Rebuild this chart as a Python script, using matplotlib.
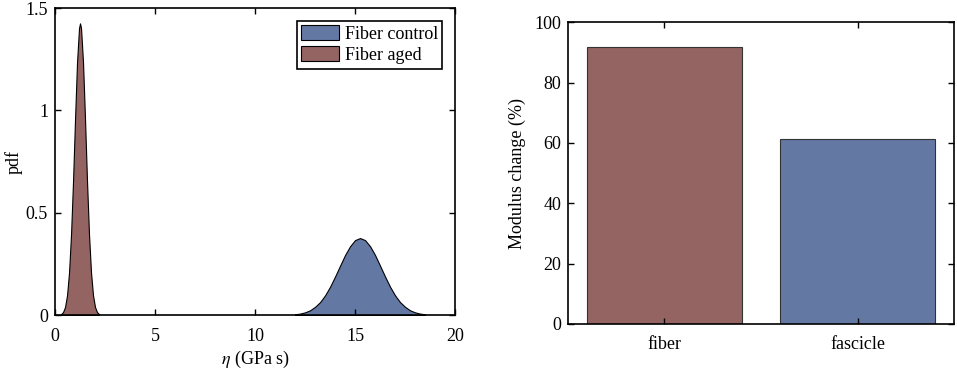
import matplotlib
matplotlib.use("Agg")
import matplotlib.pyplot as plt

plt.rcParams['font.family'] = ['Liberation Serif', 'DejaVu Serif']
plt.rcParams['mathtext.fontset'] = 'stix'
plt.rcParams['font.size'] = 13

# pdf curves
aged_x = [0.3, 0.4, 0.5, 0.6, 0.7, 0.8, 0.9, 1.0, 1.1, 1.2, 1.25, 1.3, 1.4,
          1.5, 1.6, 1.7, 1.8, 1.9, 2.0, 2.1, 2.2]
aged_y = [0.0045, 0.014, 0.039, 0.096, 0.207, 0.392, 0.652, 0.956, 1.234,
          1.402, 1.425, 1.402, 1.234, 0.956, 0.652, 0.392, 0.207, 0.096,
          0.039, 0.014, 0.0045]

control_x = [12.0, 12.25, 12.5, 12.75, 13.0, 13.25, 13.5, 13.75, 14.0, 14.25,
             14.5, 14.75, 15.0, 15.25, 15.5, 15.75, 16.0, 16.25, 16.5, 16.75,
             17.0, 17.25, 17.5, 17.75, 18.0, 18.25, 18.5]
control_y = [0.0034, 0.0069, 0.013, 0.023, 0.040, 0.063, 0.096, 0.138, 0.188,
             0.241, 0.293, 0.336, 0.366, 0.376, 0.366, 0.336, 0.293, 0.241,
             0.188, 0.138, 0.096, 0.063, 0.040, 0.023, 0.013, 0.0069, 0.0034]

# bar chart
categories = ['fiber', 'fascicle']
modulus_change = [91.6, 61.3]

red = '#946463'
blue = '#6478a4'

fig = plt.figure(figsize=(9.57, 3.69), dpi=100)

ax1 = fig.add_axes([0.0575, 0.1463, 0.418, 0.832])
ax1.fill_between(control_x, control_y, color=blue, edgecolor='black',
                 linewidth=0.8, label='Fiber control')
ax1.fill_between(aged_x, aged_y, color=red, edgecolor='black',
                 linewidth=0.8, label='Fiber aged')
ax1.set_xlim(0, 20)
ax1.set_ylim(0, 1.5)
ax1.set_xticks([0, 5, 10, 15, 20])
ax1.set_yticks([0, 0.5, 1, 1.5])
ax1.set_yticklabels(['0', '0.5', '1', '1.5'])
ax1.set_xlabel(r'$\eta$ (GPa s)', labelpad=3)
ax1.set_ylabel('pdf', labelpad=2)
leg = ax1.legend(loc='upper right', fancybox=False, framealpha=1,
                 edgecolor='black', handlelength=2.1, handleheight=0.9,
                 handletextpad=0.3, borderpad=0.25, labelspacing=0.2,
                 borderaxespad=0.7)
leg.get_frame().set_linewidth(1.2)

ax2 = fig.add_axes([0.5935, 0.122, 0.4034, 0.818])
ax2.bar([1, 2], modulus_change, width=0.8, color=[red, blue],
        edgecolor='#333333', linewidth=0.8)
ax2.set_xlim(0.5, 2.5)
ax2.set_ylim(0, 100)
ax2.set_xticks([1, 2])
ax2.set_xticklabels(categories)
ax2.set_yticks([0, 20, 40, 60, 80, 100])
ax2.set_ylabel('Modulus change (%)', labelpad=6)

for ax in (ax1, ax2):
    ax.tick_params(direction='in', top=True, right=True, length=4,
                   width=1, pad=5)
    ax.tick_params(axis='x', pad=9)
    for s in ax.spines.values():
        s.set_linewidth(1.2)

fig.savefig('out.png', dpi=100)
